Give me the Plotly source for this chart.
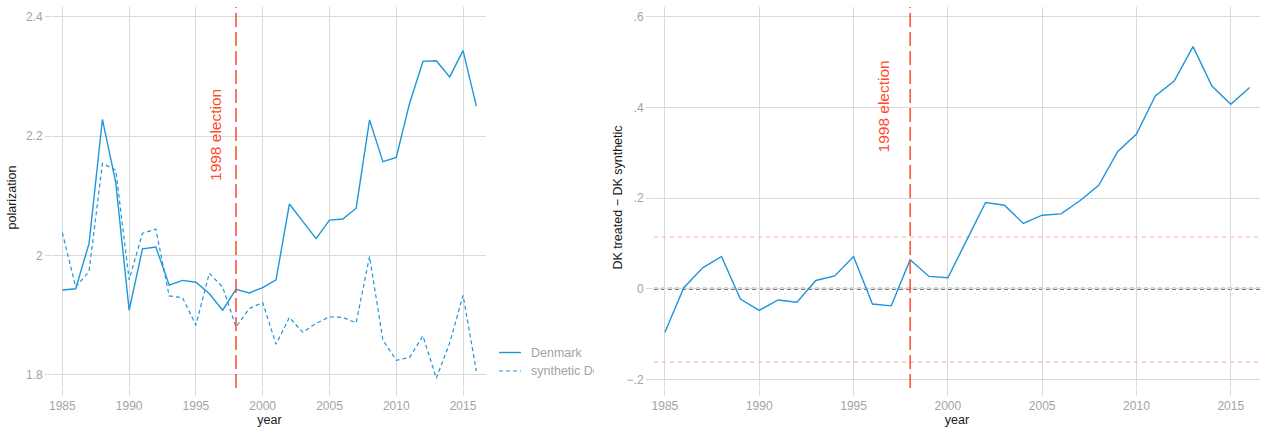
import plotly.graph_objects as go
from plotly.subplots import make_subplots

# ---------------- data ----------------
years = list(range(1985, 2017))
denmark = [1.942, 1.944, 2.020, 2.228, 2.122, 1.908, 2.011, 2.014, 1.950, 1.958,
           1.955, 1.936, 1.908, 1.943, 1.937, 1.946, 1.959, 2.086, 2.057, 2.028,
           2.059, 2.061, 2.079, 2.227, 2.157, 2.164, 2.255, 2.325, 2.326, 2.299,
           2.343, 2.250]
synthetic = [2.038, 1.947, 1.973, 2.154, 2.143, 1.959, 2.037, 2.044, 1.932, 1.929,
             1.883, 1.970, 1.947, 1.880, 1.911, 1.921, 1.851, 1.896, 1.871, 1.886,
             1.897, 1.896, 1.887, 1.998, 1.858, 1.824, 1.829, 1.865, 1.794, 1.853,
             1.933, 1.806]
gap = [-0.096, 0.002, 0.046, 0.071, -0.023, -0.048, -0.025, -0.030, 0.018, 0.028,
       0.071, -0.034, -0.038, 0.064, 0.027, 0.024, 0.107, 0.190, 0.184, 0.144,
       0.162, 0.165, 0.194, 0.228, 0.302, 0.341, 0.425, 0.458, 0.534, 0.447,
       0.407, 0.444]
band_upper = 0.114
band_lower = -0.162
election_year = 1998
election_label = "1998 election"

x_ticks = [1985, 1990, 1995, 2000, 2005, 2010, 2015]
left_yticks = [1.8, 2.0, 2.2, 2.4]
left_ytext = ["1.8", "2", "2.2", "2.4"]
right_yticks = [-0.2, 0.0, 0.2, 0.4, 0.6]
right_ytext = ["\u2212.2", "0", ".2", ".4", ".6"]
legend_names = ["Denmark", "synthetic Denmark"]

# ---------------- style ----------------
W, H = 1267, 431
BLUE = "#1f95dc"
RED = "#ff4a2a"
PINK = "#ffb3a3"
GRID = "#d9d9d9"
TICKC = "#a3a3a3"
FONT = "Liberation Sans, Arial, sans-serif"


def px_x(p):
    return p / W


def px_y(p):
    return 1 - p / H


fig = make_subplots(rows=1, cols=2)

# left panel
fig.add_trace(go.Scatter(x=years, y=denmark, mode="lines", name=legend_names[0],
                         line=dict(color=BLUE, width=1.4), showlegend=False),
              row=1, col=1)
fig.add_trace(go.Scatter(x=years, y=synthetic, mode="lines", name=legend_names[1],
                         line=dict(color=BLUE, width=1.2, dash="4px,3px"),
                         showlegend=False),
              row=1, col=1)

# right panel
fig.add_trace(go.Scatter(x=years, y=gap, mode="lines", name="gap",
                         line=dict(color=BLUE, width=1.4), showlegend=False),
              row=1, col=2)

# reference lines (right)
for yv, col, dash, w in [(band_upper, PINK, "4px,4px", 1.2),
                         (band_lower, PINK, "4px,4px", 1.2),
                         (0.0, "#4d4d4d", "4px,3px", 2.0)]:
    fig.add_shape(type="line", xref="x2 domain", yref="y2", x0=0, x1=1,
                  y0=yv, y1=yv, line=dict(color=col, width=w, dash=dash),
                  layer="below")

# election lines
for xr, yr in [("x", "y domain"), ("x2", "y2 domain")]:
    fig.add_shape(type="line", xref=xr, yref=yr, x0=election_year, x1=election_year,
                  y0=0, y1=1, line=dict(color=RED, width=1.5, dash="14px,5px"))

fig.add_annotation(x=election_year, y=2.2, xref="x", yref="y", text=election_label,
                   textangle=-90, showarrow=False, xshift=-21, yshift=1,
                   font=dict(family=FONT, size=15.5, color=RED))
fig.add_annotation(x=election_year, y=0.4, xref="x2", yref="y2", text=election_label,
                   textangle=-90, showarrow=False, xshift=-27, yshift=1,
                   font=dict(family=FONT, size=15.5, color=RED))

# manual (clipped) legend
fig.add_shape(type="line", xref="paper", yref="paper", x0=px_x(499), x1=px_x(521),
              y0=px_y(352.5), y1=px_y(352.5), line=dict(color=BLUE, width=1.4))
fig.add_shape(type="line", xref="paper", yref="paper", x0=px_x(499), x1=px_x(521),
              y0=px_y(371), y1=px_y(371),
              line=dict(color=BLUE, width=1.2, dash="4px,3px"))
fig.add_annotation(x=px_x(529), y=px_y(352.5), xref="paper", yref="paper",
                   text=legend_names[0], showarrow=False, xanchor="left",
                   yanchor="middle", align="left",
                   font=dict(family=FONT, size=12.5, color=TICKC))
fig.add_annotation(x=px_x(529), y=px_y(371), xref="paper", yref="paper",
                   text=legend_names[1], showarrow=False, xanchor="left",
                   yanchor="middle", align="left", width=63,
                   font=dict(family=FONT, size=12.5, color=TICKC))

axis_common = dict(showgrid=True, gridcolor=GRID, gridwidth=1.2, zeroline=False,
                   showline=False, ticks="outside", ticklen=7, tickcolor=GRID,
                   tickwidth=1.2, automargin=False,
                   tickfont=dict(family=FONT, size=12, color=TICKC),
                   title_font=dict(family=FONT, size=12.5, color="#1a1a1a"))

fig.update_layout(
    width=W, height=H, margin=dict(l=0, r=0, t=0, b=0),
    paper_bgcolor="white", plot_bgcolor="white",
    font=dict(family=FONT),
    xaxis=dict(domain=[px_x(53), px_x(486)], range=[1984.30, 2016.72],
               tickvals=x_ticks, title=dict(text="year", standoff=0), **axis_common),
    yaxis=dict(domain=[px_y(388), px_y(7)], range=[1.7777, 2.4162],
               tickvals=left_yticks, ticktext=left_ytext,
               title=dict(text="polarization", standoff=6), **axis_common),
    xaxis2=dict(domain=[px_x(654), px_x(1260)], range=[1984.42, 2016.55],
                tickvals=x_ticks, title=dict(text="year", standoff=0), **axis_common),
    yaxis2=dict(domain=[px_y(388), px_y(7)], range=[-0.2192, 0.6214],
                tickvals=right_yticks, ticktext=right_ytext,
                title=dict(text="DK treated \u2212 DK synthetic", standoff=1),
                **axis_common),
)

fig.write_html(
    "out.html",
    config={"displayModeBar": False},
    post_script="document.body.style.margin='0';document.body.style.overflow='hidden';",
)
